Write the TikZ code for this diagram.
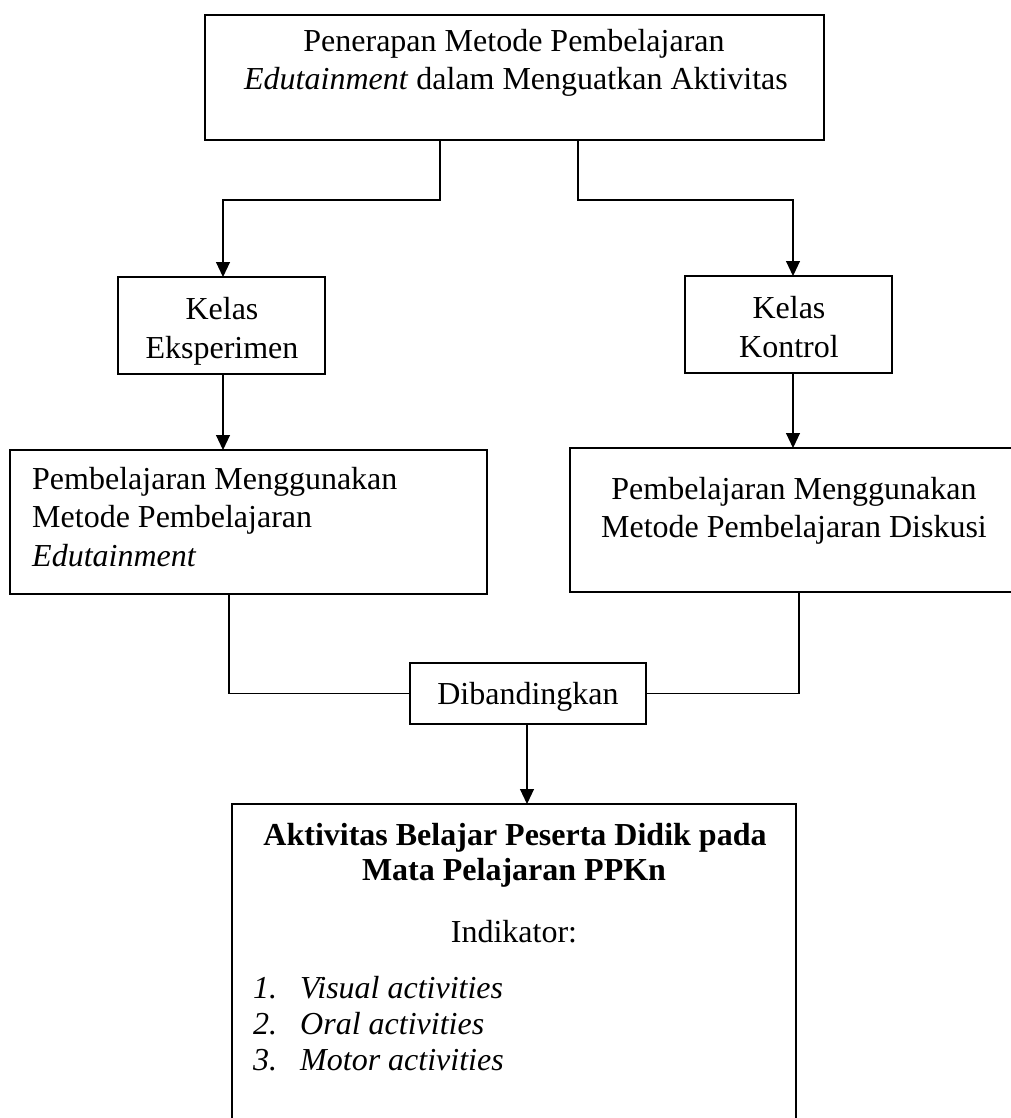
\documentclass[tikz,border=0pt]{standalone}
\usepackage{fontspec}
\setmainfont{Liberation Serif}
\usetikzlibrary{arrows.meta}
\begin{document}
\begin{tikzpicture}[x=1pt,y=-1pt,
  box/.style={draw, line width=2pt, inner sep=0pt, outer sep=0pt, anchor=north west},
  conn/.style={line width=1.1pt},
  arr/.style={conn, -{Triangle[width=14pt,length=15pt]}},
  txt/.style={anchor=base, inner sep=0pt, font=\fontsize{32}{38}\selectfont},
  txtl/.style={txt, anchor=base west}]
\useasboundingbox (0,0) rectangle (1011,1118);
\clip (0,0) rectangle (1011,1118);
% boxes
\node[box, minimum width=619pt, minimum height=125pt] (top) at (205,15) {};
\node[box, minimum width=207pt, minimum height=97pt] (eks) at (118,277) {};
\node[box, minimum width=207pt, minimum height=97pt] (kon) at (685,276) {};
\node[box, minimum width=477pt, minimum height=144pt] (lbox) at (10,450) {};
\node[box, minimum width=446pt, minimum height=144pt] (rbox) at (570,448) {};
\node[box, minimum width=236pt, minimum height=61pt] (dib) at (410,663) {};
\node[box, minimum width=564pt, minimum height=330pt] (bot) at (232,804) {};
% texts
\node[txt] (t1) at (514,52) {Penerapan Metode Pembelajaran};
\node[txt] (t2) at (516,90) {\textit{Edutainment} dalam Menguatkan Aktivitas};
\node[txt] (e1) at (222,319) {Kelas};
\node[txt] (e2) at (222,358) {Eksperimen};
\node[txt] (k1) at (789,318) {Kelas};
\node[txt] (k2) at (789,357) {Kontrol};
\node[txtl] (l1) at (32,489) {Pembelajaran Menggunakan};
\node[txtl] (l2) at (32,527) {Metode Pembelajaran};
\node[txtl] (l3) at (32,566) {\textit{Edutainment}};
\node[txt] (r1) at (794,499) {Pembelajaran Menggunakan};
\node[txt] (r2) at (794,537) {Metode Pembelajaran Diskusi};
\node[txt] (d1) at (528,704) {Dibandingkan};
\node[txt] (b1) at (515,845) {\bfseries Aktivitas Belajar Peserta Didik pada};
\node[txt] (b2) at (514,880) {\bfseries Mata Pelajaran PPKn};
\node[txt] (b3) at (514,942) {Indikator:};
\node[txtl] (n1) at (253,998) {\itshape 1.};
\node[txtl] (i1) at (300,998) {\itshape Visual activities};
\node[txtl] (n2) at (253,1034) {\itshape 2.};
\node[txtl] (i2) at (300,1034) {\itshape Oral activities};
\node[txtl] (n3) at (253,1070) {\itshape 3.};
\node[txtl] (i3) at (300,1070) {\itshape Motor activities};
% connectors
\draw[arr] (440,0 |- top.south) |- (223,200) -- (223,0 |- eks.north);
\draw[arr] (578,0 |- top.south) |- (793,200) -- (793,0 |- kon.north);
\draw[arr] (223,0 |- eks.south) -- (223,0 |- lbox.north);
\draw[arr] (793,0 |- kon.south) -- (793,0 |- rbox.north);
\draw[conn] (229,0 |- lbox.south) |- (dib.west);
\draw[conn] (799,0 |- rbox.south) |- (dib.east);
\draw[arr] (527,0 |- dib.south) -- (527,0 |- bot.north);
\end{tikzpicture}
\end{document}
